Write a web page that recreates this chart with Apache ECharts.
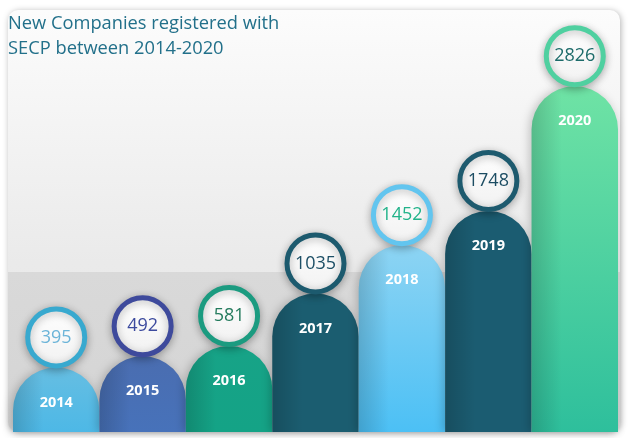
<!DOCTYPE html>
<html>
<head>
<meta charset="utf-8">
<script src="https://cdn.jsdelivr.net/npm/echarts@6/dist/echarts.min.js"></script>
<style>
html,body{margin:0;padding:0;background:#fff;}
#chart{width:635px;height:438px;}
</style>
</head>
<body>
<div id="chart"></div>
<script>
// ---- data ----
const years = ['2014', '2015', '2016', '2017', '2018', '2019', '2020'];
const values = [395, 492, 581, 1035, 1452, 1748, 2826];
const titleText = 'New Companies registered with\nSECP between 2014-2020';

// ---- palette ----
const barTop    = ['#66bee2', '#4a6db0', '#17a387', '#1b5d70', '#8dd4f3', '#1b5c71', '#6fe3a5'];
const barBottom = ['#4db8e6', '#4772ba', '#14a386', '#1b5d70', '#4cc0f5', '#1b5c71', '#2ebf9c'];
const ringColor = ['#38a9cf', '#3e4a9c', '#1b9b80', '#1c5a6e', '#62c5ef', '#1d5a6e', '#4fd0a0'];
const numColor  = ['#6cb4d8', '#3c4a9e', '#237a5c', '#1d4f66', '#22b38a', '#1d4d63', '#1d6b6a'];

const chart = echarts.init(document.getElementById('chart'), null, {renderer: 'canvas'});

function renderItem(params, api) {
  const i = params.dataIndex;
  const cs = params.coordSys;
  const pt = api.coord([api.value(0), api.value(1)]);
  const bw = api.size([1, 0])[0];
  const x0 = pt[0] - bw / 2;
  const yTop = pt[1];
  const bottom = cs.y + cs.height;
  const r = bw / 2;
  const h = bottom - yTop;
  const cy = yTop - 30;
  return {
    type: 'group',
    children: [
      {
        type: 'rect',
        shape: {x: x0, y: yTop, width: bw, height: h, r: [r, r, 0, 0]},
        style: {
          fill: new echarts.graphic.LinearGradient(0, 0, 0, 1, [
            {offset: 0, color: barTop[i]}, {offset: 1, color: barBottom[i]}
          ]),
          shadowBlur: 10, shadowColor: 'rgba(0,0,0,0.22)', shadowOffsetX: -2
        }
      },
      {
        type: 'rect',
        silent: true,
        shape: {x: x0, y: yTop, width: bw, height: h, r: [r, r, 0, 0]},
        style: {
          fill: new echarts.graphic.LinearGradient(0, 0, 1, 0, [
            {offset: 0, color: 'rgba(0,0,0,0.16)'},
            {offset: 0.35, color: 'rgba(0,0,0,0.0)'},
            {offset: 1, color: 'rgba(0,0,0,0.0)'}
          ])
        }
      },
      {
        type: 'text',
        style: {
          text: years[i], x: pt[0], y: yTop + 35,
          fill: '#ffffff', fontSize: 14.5, fontWeight: 'bold',
          fontFamily: 'Open Sans', align: 'center', verticalAlign: 'middle'
        }
      },
      {
        type: 'circle',
        shape: {cx: pt[0], cy: cy, r: 28.5},
        style: {
          fill: new echarts.graphic.LinearGradient(0, 0, 0, 1, [
            {offset: 0, color: '#ffffff'}, {offset: 1, color: '#f1f1f1'}
          ]),
          stroke: ringColor[i], lineWidth: 5,
          shadowBlur: 8, shadowColor: 'rgba(0,0,0,0.28)', shadowOffsetY: 2
        }
      },
      {
        type: 'text',
        style: {
          text: String(values[i]), x: pt[0], y: cy,
          fill: numColor[i], fontSize: 18, fontFamily: 'Open Sans',
          align: 'center', verticalAlign: 'middle'
        }
      }
    ]
  };
}

chart.setOption({
  backgroundColor: '#ffffff',
  animation: false,
  title: {
    text: titleText,
    left: 8, top: 11, padding: 0,
    textStyle: {fontSize: 18.3, fontWeight: 'normal', color: '#22708a', fontFamily: 'Open Sans', lineHeight: 25}
  },
  graphic: [
    {
      type: 'rect', z: -10,
      shape: {x: 8, y: 10, width: 612, height: 422, r: 10},
      style: {
        fill: new echarts.graphic.LinearGradient(0, 0, 0, 1, [
          {offset: 0, color: '#fcfcfc'}, {offset: 0.6, color: '#eaeaea'}, {offset: 1, color: '#e6e6e6'}
        ]),
        shadowBlur: 6, shadowColor: 'rgba(0,0,0,0.3)', shadowOffsetX: 1, shadowOffsetY: 1
      }
    },
    {
      type: 'rect', z: -9,
      shape: {x: 8, y: 272, width: 612, height: 160, r: [0, 0, 10, 10]},
      style: {
        fill: new echarts.graphic.LinearGradient(0, 0, 0, 1, [
          {offset: 0, color: '#d9d9d9'}, {offset: 1, color: '#d4d4d4'}
        ])
      }
    }
  ],
  grid: {left: 13, right: 17, top: 10, bottom: 6},
  xAxis: {type: 'category', data: years, show: false},
  yAxis: {type: 'value', min: -163, max: 3484, show: false},
  series: [{
    type: 'custom',
    renderItem: renderItem,
    data: values.map((v, i) => [i, v]),
    clip: false
  }]
});
</script>
</body>
</html>
